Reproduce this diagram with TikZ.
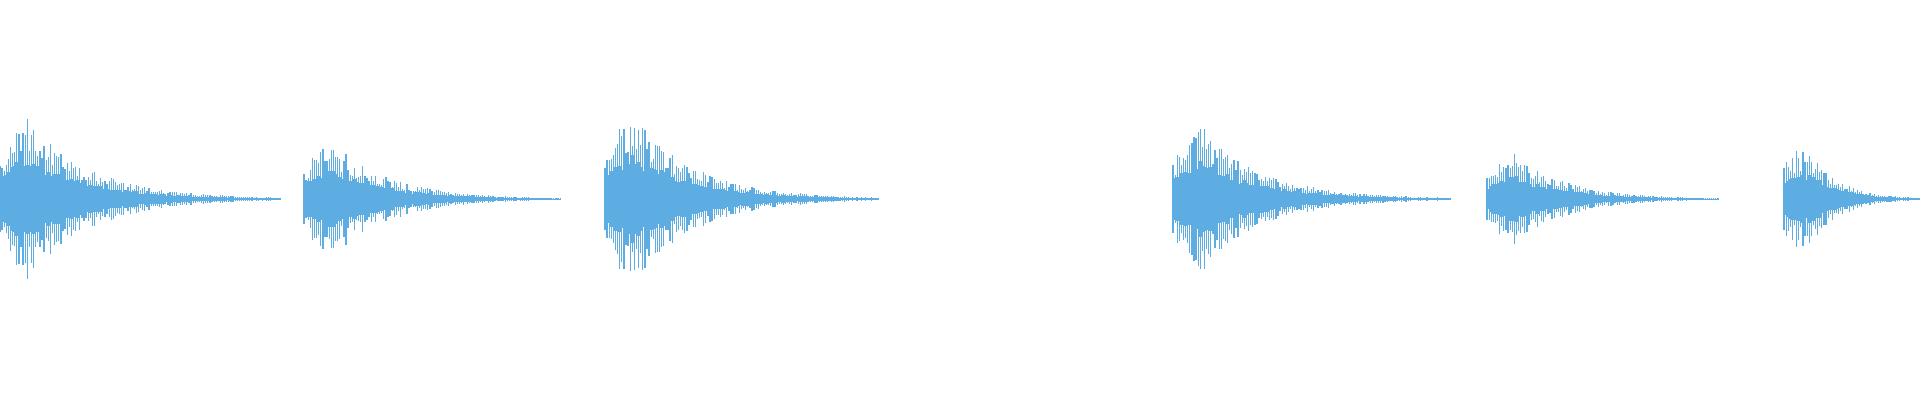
\documentclass[tikz,border=0pt]{standalone}
\usetikzlibrary{calc}
\definecolor{wave}{HTML}{5DADE2}

\tikzset{
  spike/.style={draw=wave, line width=0.35pt},
  core/.style={draw=wave, line width=0.75pt}
}

% one decaying burst: start, length, peak amplitude (cm)
\newcommand{\burst}[3]{%
  \pgfmathtruncatemacro{\nsteps}{#2/0.021}
  \foreach \i in {0,...,\nsteps}{
    \pgfmathsetmacro{\t}{\i*0.021}
    \pgfmathsetmacro{\att}{min(1,0.3+\t/0.4)}
    \pgfmathsetmacro{\env}{#3*\att*exp(-\t/(#2/4.5))}
    \pgfmathsetmacro{\hs}{\env*(0.55+0.45*rnd)}
    \pgfmathsetmacro{\hc}{max(0.003,\env*(0.38+0.15*rnd))}
    \draw[spike] ({#1+\t},{2.01-\hs}) -- ({#1+\t},{2.01+\hs});
    \draw[core] ({#1+\t},{2.01-\hc}) -- ({#1+\t},{2.01+\hc});
  }
}

\begin{document}
\begin{tikzpicture}
\pgfmathsetseed{11}
\useasboundingbox (0,0) rectangle (19.2,4);

\burst{0.00}{2.80}{1.30}
\burst{3.04}{2.58}{0.95}
\burst{6.05}{2.75}{1.38}
\burst{11.73}{2.78}{1.18}
\burst{14.87}{2.33}{0.78}
\burst{17.84}{1.36}{1.18}
\end{tikzpicture}
\end{document}
